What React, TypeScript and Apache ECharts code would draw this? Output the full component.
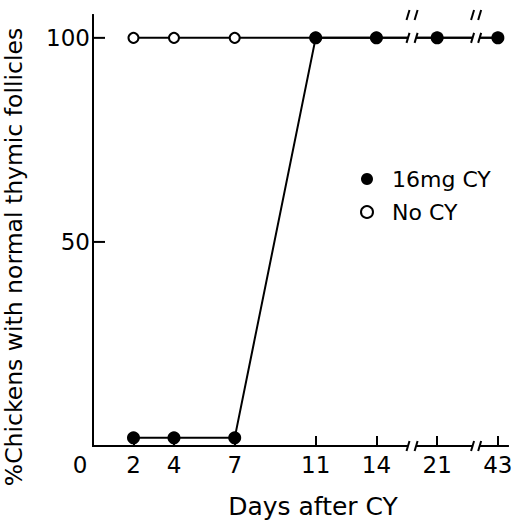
import React, { useEffect, useRef } from "react";
import * as echarts from "echarts";

// Days sampled and where they sit on the (broken) x axis
const dayLabels = [2, 4, 7, 11, 14, 21, 43];
const axisPositions = [2, 4, 7, 11, 14, 17, 20];
// % chickens with normal thymic follicles
const cy16Values = [2, 2, 2, 100, 100, 100, 100];
const noCyValues = [100, 100, 100, 100, 100, 100, 100];
const yTicks = [50, 100];
const yLabelValues = [50, 100];
// axis breaks (in axis units)
const breakGaps = [
  [15.56, 15.96],
  [18.75, 19.1],
];

const X_MAX = 20.5;
const Y_MAX = 105.6;
const FONT = "DejaVu Sans";

export default function App() {
  const ref = useRef<HTMLDivElement>(null);
  useEffect(() => {
    if (!ref.current) return;
    const chart = echarts.init(ref.current, undefined, { renderer: "svg" });
    const axisLine = { show: true, lineStyle: { color: "#000", width: 2 } };
    chart.setOption({
      animation: false,
      backgroundColor: "#fff",
      grid: { left: 93, right: 8, top: 15, bottom: 74 },
      xAxis: [
        {
          type: "value",
          min: 0,
          max: X_MAX,
          position: "bottom",
          axisLine,
          splitLine: { show: false },
          axisTick: {
            show: true,
            inside: true,
            length: 10,
            customValues: axisPositions,
            lineStyle: { color: "#000", width: 2 },
          },
          axisLabel: {
            customValues: [0, ...axisPositions],
            margin: 7,
            color: "#000",
            fontFamily: FONT,
            fontSize: 23,
            formatter: (v: number) => {
              if (v === 0) return "{z|0}";
              const i = axisPositions.indexOf(v);
              return i >= 0 ? String(dayLabels[i]) : "";
            },
            rich: {
              z: { fontFamily: FONT, fontSize: 23, color: "#000", padding: [0, 26, 0, 0] },
            },
          },
        },
        {
          type: "value",
          min: 0,
          max: X_MAX,
          position: "top",
          axisLine,
          axisTick: { show: false },
          axisLabel: { show: false },
          splitLine: { show: false },
        },
      ],
      yAxis: [
        {
          type: "value",
          min: 0,
          max: Y_MAX,
          position: "left",
          axisLine,
          splitLine: { show: false },
          axisTick: { show: false },
          axisLabel: {
            customValues: yLabelValues,
            margin: 3,
            color: "#000",
            fontFamily: FONT,
            fontSize: 23,
          },
        },
        {
          type: "value",
          min: 0,
          max: Y_MAX,
          position: "right",
          axisLine,
          axisTick: { show: false },
          axisLabel: { show: false },
          splitLine: { show: false },
        },
      ],
      legend: {
        orient: "vertical",
        left: 355,
        top: 162,
        itemGap: 9,
        itemWidth: 12,
        itemHeight: 12,
        icon: "circle",
        textStyle: {
          color: "#000",
          fontFamily: FONT,
          fontSize: 22,
          lineHeight: 24,
          padding: [0, 0, 0, 14],
        },
        data: ["16mg CY", "No CY"],
      },
      series: [
        {
          name: "No CY",
          type: "line",
          data: axisPositions.map((x, i) => [x, noCyValues[i]]),
          symbol: "circle",
          symbolSize: 10,
          itemStyle: { color: "#fff", borderColor: "#000", borderWidth: 2 },
          lineStyle: { color: "#000", width: 2 },
          z: 2,
        },
        {
          name: "16mg CY",
          type: "line",
          data: axisPositions.map((x, i) => [x, cy16Values[i]]),
          symbol: "circle",
          symbolSize: 13,
          itemStyle: { color: "#000", borderColor: "#000", borderWidth: 0 },
          lineStyle: { color: "#000", width: 2 },
          z: 3,
        },
      ],
    });

    const px = (x: number, y: number) =>
      chart.convertToPixel({ xAxisIndex: 0, yAxisIndex: 0 }, [x, y]) as number[];
    const graphics: any[] = [];
    // y-axis ticks pointing inward
    yTicks.forEach((v) => {
      const p = px(0, v);
      graphics.push({
        type: "rect",
        z: 101,
        shape: { x: p[0], y: p[1] - 1, width: 12, height: 2 },
        style: { fill: "#000" },
      });
    });
    [0, 100, Y_MAX].forEach((yv) => {
      breakGaps.forEach(([gs, ge]) => {
        const a = px(gs, yv);
        const b = px(ge, yv);
        graphics.push({
          type: "rect",
          z: 100,
          shape: { x: a[0], y: a[1] - 4, width: b[0] - a[0], height: 8 },
          style: { fill: "#fff" },
        });
        [a, b].forEach((p) => {
          graphics.push({
            type: "line",
            z: 101,
            shape: { x1: p[0] - 1.5, y1: p[1] + 5, x2: p[0] + 1.5, y2: p[1] - 5 },
            style: { stroke: "#000", lineWidth: 2 },
          });
        });
      });
    });
    graphics.push({
      type: "text",
      z: 101,
      x: 313,
      y: 506,
      style: {
        text: "Days after CY",
        fill: "#000",
        font: `25px "${FONT}"`,
        textAlign: "center",
        textVerticalAlign: "middle",
      },
    });
    graphics.push({
      type: "text",
      z: 101,
      x: 14,
      y: 257,
      rotation: Math.PI / 2,
      style: {
        text: "%Chickens with normal thymic follicles",
        fill: "#000",
        font: `23.5px "${FONT}"`,
        textAlign: "center",
        textVerticalAlign: "middle",
      },
    });
    chart.setOption({ graphic: graphics });
    return () => chart.dispose();
  }, []);
  return (
    <div
      ref={ref}
      style={{ position: "absolute", left: 0, top: 0, width: 516, height: 520 }}
    />
  );
}
